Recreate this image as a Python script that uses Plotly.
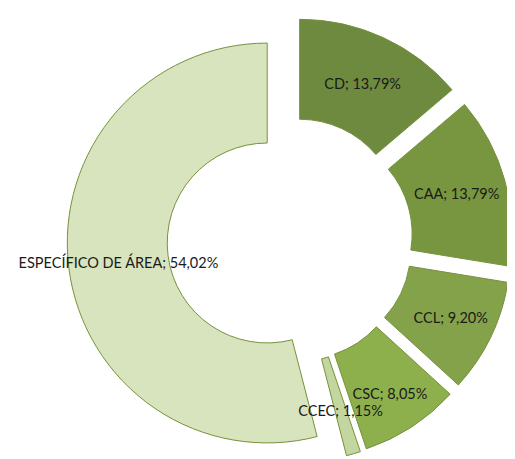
import plotly.graph_objects as go

labels = ["CD", "CAA", "CCL", "CSC", "CCEC", "ESPECÍFICO DE ÁREA"]
values = [13.79, 13.79, 9.20, 8.05, 1.15, 54.02]
colors = ["#6E8A3E", "#78963F", "#84A24A", "#8DB04D", "#C3D69F", "#D8E4BD"]
pulls = [0.115, 0.115, 0.115, 0.115, 0.115, 0.115]

label_fmt = "%{label}; %{percent:.2%}"
# the thin CCEC slice gets its label from an overlay ring (see below)
main_text = [label_fmt, label_fmt, label_fmt, label_fmt, "", label_fmt]
overlay_text = ["", "", "", "", label_fmt, ""]

font = dict(family="Lato", size=14.5, color="#1a1a1a")

fig = go.Figure()
fig.add_trace(go.Pie(
    labels=labels,
    values=values,
    sort=False,
    direction="clockwise",
    rotation=0,
    hole=0.5,
    pull=pulls,
    marker=dict(colors=colors, line=dict(color="#76923C", width=1)),
    texttemplate=main_text,
    textposition="inside",
    insidetextorientation="horizontal",
    textfont=font,
    domain=dict(x=[0.1146, 0.9806], y=[0.0087, 0.980]),
    showlegend=False,
))
# transparent ring used only to place the CCEC label at mid-ring
fig.add_trace(go.Pie(
    labels=labels,
    values=values,
    sort=False,
    direction="clockwise",
    rotation=0,
    hole=0.5,
    marker=dict(colors=["rgba(0,0,0,0)"] * len(labels), line=dict(width=0)),
    texttemplate=overlay_text,
    textposition="inside",
    insidetextorientation="horizontal",
    textfont=font,
    hoverinfo="skip",
    domain=dict(x=[0.1903, 0.9049], y=[0.0937, 0.8954]),
    showlegend=False,
))

fig.update_layout(
    width=515,
    height=459,
    margin=dict(l=0, r=0, t=0, b=0),
    paper_bgcolor="white",
    plot_bgcolor="white",
    separators=",.",
    uniformtext=dict(minsize=14.5, mode="show"),
)

fig.write_html("out.html")
